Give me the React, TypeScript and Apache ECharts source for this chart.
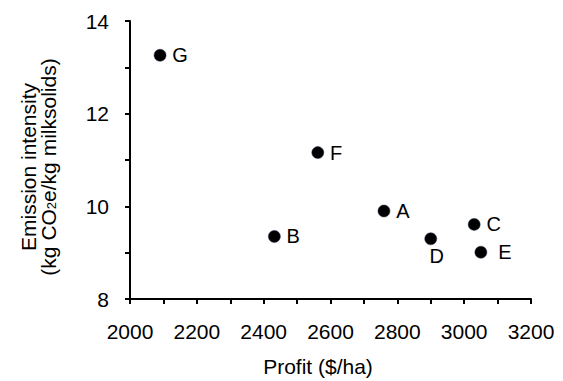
import React, { useEffect, useRef } from "react";
import * as echarts from "echarts";

const farmLabels = ["A", "B", "C", "D", "E", "F", "G"];
const profit = [2760, 2432, 3030, 2900, 3050, 2562, 2090];
const intensity = [9.9, 9.35, 9.61, 9.3, 9.01, 11.16, 13.26];
const xTicks = { min: 2000, max: 3200, interval: 200 };
const yTicks = { min: 8, max: 14, interval: 2 };

const FONT = "'Liberation Sans', Arial, sans-serif";

export default function App() {
  const ref = useRef<HTMLDivElement>(null);
  useEffect(() => {
    document.body.style.margin = "0";
    const chart = echarts.init(ref.current!, null, { renderer: "svg" });
    const data = farmLabels.map((name, i) => {
      const item: any = { name, value: [profit[i], intensity[i]] };
      if (name === "D") {
        item.label = { position: "bottom", offset: [6, 0], distance: 1 };
      } else if (name === "E") {
        item.label = { distance: 11 };
      }
      return item;
    });
    chart.setOption({
      animation: false,
      grid: { left: 130, right: 32, top: 21, bottom: 82 },
      xAxis: {
        type: "value",
        min: xTicks.min,
        max: xTicks.max,
        interval: xTicks.interval,
        splitLine: { show: false },
        axisLine: { show: true, onZero: false, lineStyle: { color: "#000", width: 2 } },
        axisTick: { show: true, length: 5, lineStyle: { color: "#000", width: 2 } },
        minorTick: { show: true, splitNumber: 2, length: 5, lineStyle: { color: "#000", width: 2 } },
        axisLabel: {
          color: "#000",
          fontSize: 21,
          fontFamily: FONT,
          margin: 22,
          formatter: (v: number) => String(v),
        },
      },
      yAxis: {
        type: "value",
        min: yTicks.min,
        max: yTicks.max,
        interval: yTicks.interval,
        splitLine: { show: false },
        axisLine: { show: true, onZero: false, lineStyle: { color: "#000", width: 2 } },
        axisTick: { show: true, length: 5, lineStyle: { color: "#000", width: 2 } },
        minorTick: { show: true, splitNumber: 2, length: 5, lineStyle: { color: "#000", width: 2 } },
        axisLabel: { color: "#000", fontSize: 21, fontFamily: FONT, margin: 21 },
      },
      graphic: [
        {
          type: "text",
          x: 318,
          y: 356,
          style: {
            text: "Profit ($/ha)",
            fill: "#000",
            font: `21px ${FONT}`,
            align: "center",
            verticalAlign: "top",
          },
        },
        {
          type: "text",
          x: 38,
          y: 167,
          rotation: Math.PI / 2,
          style: {
            text: "{m|Emission intensity}\n{m|(kg CO}{s|2}{m|e/kg milksolids)}",
            fill: "#000",
            align: "center",
            verticalAlign: "middle",
            rich: {
              m: { fontSize: 21, fontFamily: FONT, lineHeight: 20, fill: "#000" },
              s: { fontSize: 13, fontFamily: FONT, lineHeight: 6, verticalAlign: "bottom", fill: "#000" },
            },
          },
        },
      ],
      series: [
        {
          type: "scatter",
          data,
          symbol: "circle",
          symbolSize: 12,
          itemStyle: { color: "#000", opacity: 1, borderColor: "#1f2d4d", borderWidth: 0.5 },
          label: {
            show: true,
            position: "right",
            distance: 6,
            formatter: "{b}",
            color: "#000",
            fontSize: 20,
            fontFamily: FONT,
          },
        },
      ],
    });
    return () => chart.dispose();
  }, []);
  return <div ref={ref} style={{ width: 563, height: 381 }} />;
}
